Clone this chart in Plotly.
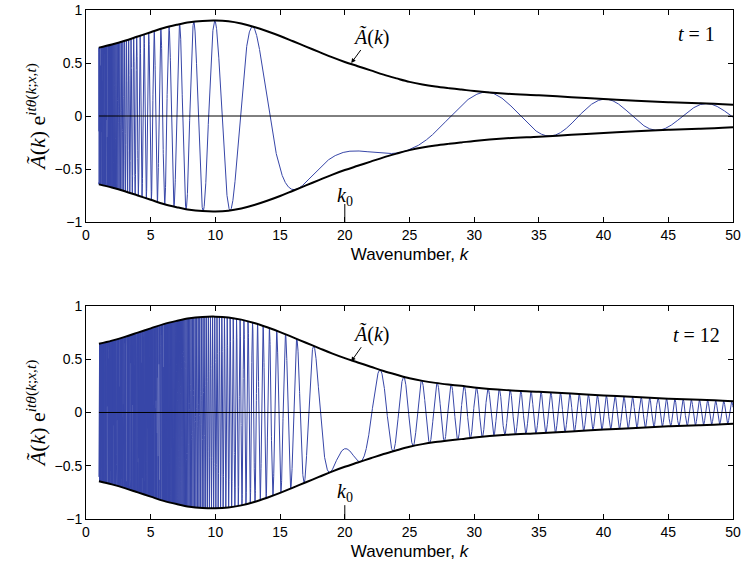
import numpy as np
import plotly.graph_objects as go

# ---- data ----
env_k = [1, 2, 3, 4, 5, 6, 7, 8, 9, 10, 11, 12, 13, 14, 15, 16, 17, 18, 19, 20,
         21, 22, 23, 24, 25, 26, 27, 28, 29, 30, 32.5, 35, 37.5, 40, 42.5, 45, 47.5, 50]
env_A = [0.645, 0.675, 0.71, 0.75, 0.79, 0.83, 0.86, 0.885, 0.897, 0.90, 0.893, 0.872,
         0.84, 0.80, 0.755, 0.705, 0.655, 0.605, 0.555, 0.51, 0.47, 0.43, 0.39, 0.355,
         0.322, 0.297, 0.278, 0.263, 0.25, 0.235, 0.21, 0.195, 0.178, 0.16, 0.145,
         0.13, 0.12, 0.105]
panel_t = [1, 12]
k0 = 20                       # stationary wavenumber marked on the axis
phase_scale = [405, 4860]     # read from the spacing of the oscillation peaks
phase_offset = [2.3, 2.3]     # read from the flat part near k0
x_ticks = [0, 5, 10, 15, 20, 25, 30, 35, 40, 45, 50]
y_ticks = [-1, -0.5, 0, 0.5, 1]
y_ticktext = ["\u22121", "\u22120.5", "0", "0.5", "1"]

BLUE = "rgb(55,70,168)"
SANS = "Liberation Sans, Arial, sans-serif"
SERIF = "Liberation Serif, DejaVu Serif, serif"

fig = go.Figure()

grids = [
    np.concatenate([np.arange(1, 4, 0.0005), np.arange(4, 50.0001, 0.005)]),
    np.concatenate([np.arange(1, 4, 0.0002), np.arange(4, 12, 0.001), np.arange(12, 50.0001, 0.005)]),
]

domains = [[0.5835, 1.0], [0.0, 0.4185]]

for i in range(2):
    xa = "x" if i == 0 else "x2"
    ya = "y" if i == 0 else "y2"
    k = grids[i]
    A = np.interp(k, env_k, env_A)
    th = phase_scale[i] * (k - k0) ** 2 / (k * k0 ** 2) + phase_offset[i]
    y = A * np.cos(th)
    fig.add_trace(go.Scatter(x=np.round(k, 5), y=np.round(y, 4), mode="lines",
                             line=dict(color=BLUE, width=1), xaxis=xa, yaxis=ya,
                             showlegend=False, hoverinfo="skip"))
    fig.add_trace(go.Scatter(x=[env_k[0], env_k[-1]], y=[0, 0], mode="lines",
                             line=dict(color="black", width=1), xaxis=xa, yaxis=ya,
                             showlegend=False, hoverinfo="skip"))
    fig.add_trace(go.Scatter(x=env_k, y=env_A, mode="lines", line_shape="spline",
                             line=dict(color="black", width=2), xaxis=xa, yaxis=ya,
                             showlegend=False, hoverinfo="skip"))
    fig.add_trace(go.Scatter(x=env_k, y=[-a for a in env_A], mode="lines", line_shape="spline",
                             line=dict(color="black", width=2), xaxis=xa, yaxis=ya,
                             showlegend=False, hoverinfo="skip"))

axis_common = dict(range=[0, 50], tickvals=x_ticks, ticks="inside", ticklen=5,
                   tickcolor="black", showline=True, linecolor="black", linewidth=1,
                   mirror="ticks", showgrid=False, zeroline=False, automargin=False,
                   tickfont=dict(family=SANS, size=14, color="black"),
                   title=dict(text="Wavenumber, <i>k</i>",
                              font=dict(family=SANS, size=17, color="black"), standoff=6))
yaxis_common = dict(range=[-1, 1], tickvals=y_ticks, ticktext=y_ticktext, ticks="inside",
                    ticklen=5, tickcolor="black", showline=True, linecolor="black",
                    linewidth=1, mirror="ticks", showgrid=False, zeroline=False,
                    automargin=False,
                    tickfont=dict(family=SANS, size=14, color="black"),
                    title=dict(text="<i>\u00c3</i>(<i>k</i>) e<sup><i>it\u03b8</i>(<i>k</i>;<i>x</i>,<i>t</i>)</sup>",
                               font=dict(family=SERIF, size=22, color="black"), standoff=2))

fig.update_layout(
    width=741, height=577, paper_bgcolor="white", plot_bgcolor="white",
    margin=dict(l=86, r=8, t=10, b=58),
    xaxis=dict(domain=[0, 1], anchor="y", **axis_common),
    yaxis=dict(domain=domains[0], anchor="x", **yaxis_common),
    xaxis2=dict(domain=[0, 1], anchor="y2", **axis_common),
    yaxis2=dict(domain=domains[1], anchor="x2", **yaxis_common),
)

ann_pos = [dict(tx=22.0, ty=0.75, hx=20.5, hy=0.50, k0y=-0.76, kt=-0.83, lx=47.2, ly=0.77),
           dict(tx=22.0, ty=0.74, hx=20.5, hy=0.48, k0y=-0.75, kt=-0.87, lx=47.2, ly=0.73)]
anns = []
shapes = []
for i in range(2):
    xr = "x" if i == 0 else "x2"
    yr = "y" if i == 0 else "y2"
    p = ann_pos[i]
    anns.append(dict(x=p["hx"], y=p["hy"], ax=p["tx"], ay=p["ty"], xref=xr, yref=yr,
                     axref=xr, ayref=yr, showarrow=True, arrowhead=2, arrowsize=0.9,
                     arrowwidth=1, arrowcolor="black", standoff=0,
                     text="<i>\u00c3</i>(<i>k</i>)", font=dict(family=SERIF, size=20, color="black")))
    anns.append(dict(x=k0, y=p["k0y"], xref=xr, yref=yr, showarrow=False,
                     text="<i>k</i><sub>0</sub>", font=dict(family=SERIF, size=20, color="black")))
    anns.append(dict(x=p["lx"], y=p["ly"], xref=xr, yref=yr, showarrow=False,
                     text="<i>t</i> = %d" % panel_t[i], font=dict(family=SERIF, size=20, color="black")))
    shapes.append(dict(type="line", xref=xr, yref=yr, x0=k0, x1=k0, y0=-1, y1=p["kt"],
                       line=dict(color="black", width=1)))

fig.update_layout(annotations=anns, shapes=shapes)
fig.write_html("out.html")
